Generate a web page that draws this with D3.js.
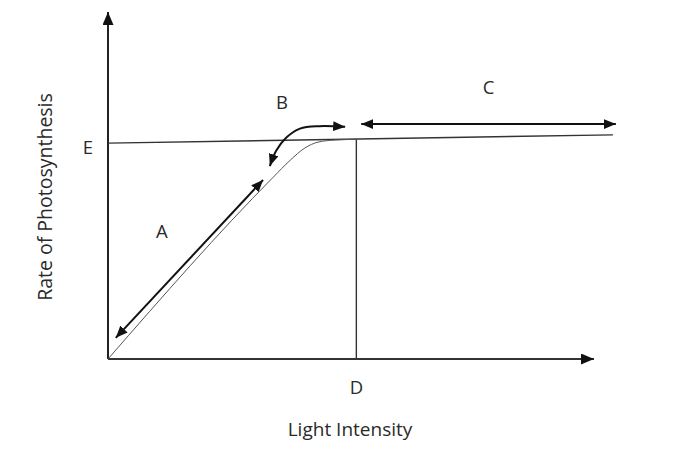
<!DOCTYPE html>
<html>
<head>
<meta charset="utf-8">
<script src="https://cdn.jsdelivr.net/npm/d3@7"></script>
<style>
  body { margin: 0; background: #fff; }
  text { font-family: "Open Sans", "Liberation Sans", sans-serif; fill: #2a2a2a; }
</style>
</head>
<body>
<div id="chart"></div>
<script>
//Data (axis units 0-100)
var curveX = [0, 34, 37.5, 40.5, 43.2, 46.7, 51.2];
var curveY = [0, 52.4, 57.3, 60.8, 62.5, 63.1, 63.3];
var eLineX = [0, 103.9];
var eLineY = [62.2, 64.6];
var dValue = 51.1;
var arrowA = [[1.6, 6.1], [31.9, 51.6]];
var arrowB = [[48.8, 66.9], [43.5, 67.1], [39.5, 66.4], [36.6, 63.7], [34.6, 60.0], [33.3, 55.6]];
var arrowC = [[52.1, 67.7], [104.5, 67.7]];
var letters = ["A", "B", "C", "D", "E"];
var axisTitles = ["Light Intensity", "Rate of Photosynthesis"];

//Canvas
var W = 678, H = 460;
var svg = d3.select("#chart").append("svg")
	.attr("width", W).attr("height", H);

var x = d3.scaleLinear().domain([0, 100]).range([108, 594]);
var y = d3.scaleLinear().domain([0, 100]).range([359, 12]);

//Arrowhead marker
var defs = svg.append("defs");
function marker(id, len, wid) {
	defs.append("marker").attr("id", id)
		.attr("markerUnits", "userSpaceOnUse")
		.attr("viewBox", "0 0 " + len + " " + wid)
		.attr("refX", len).attr("refY", wid / 2)
		.attr("markerWidth", len).attr("markerHeight", wid)
		.attr("orient", "auto-start-reverse")
		.append("path")
		.attr("d", "M0,0L" + len + "," + (wid / 2) + "L0," + wid + "Z")
		.attr("fill", "#111");
}
marker("head", 12, 10);
marker("axisHead", 13, 11);

var line = d3.line().x(function(d) { return x(d[0]); }).y(function(d) { return y(d[1]); });

//Axes
svg.append("path")
	.attr("d", line([[0, 0], [0, 100]]))
	.attr("stroke", "#222").attr("stroke-width", 2).attr("fill", "none")
	.attr("marker-end", "url(#axisHead)");
svg.append("path")
	.attr("d", line([[0, 0], [100, 0]]))
	.attr("stroke", "#333").attr("stroke-width", 2).attr("fill", "none")
	.attr("marker-end", "url(#axisHead)");

//E line
svg.append("path")
	.attr("d", line(eLineX.map(function(v, i) { return [v, eLineY[i]]; })))
	.attr("stroke", "#333").attr("stroke-width", 1.4).attr("fill", "none");

//D line
var eAtD = eLineY[0] + (eLineY[1] - eLineY[0]) * dValue / eLineX[1];
svg.append("path")
	.attr("d", line([[dValue, 0], [dValue, eAtD]]))
	.attr("stroke", "#333").attr("stroke-width", 1.4).attr("fill", "none");

//Rate curve
svg.append("path")
	.attr("d", d3.line().curve(d3.curveMonotoneX)
		.x(function(d) { return x(d[0]); }).y(function(d) { return y(d[1]); })
		(curveX.map(function(v, i) { return [v, curveY[i]]; })))
	.attr("stroke", "#555").attr("stroke-width", 1).attr("fill", "none");

//Annotation arrows
[arrowA, arrowC].forEach(function(a) {
	svg.append("path")
		.attr("d", line(a))
		.attr("stroke", "#111").attr("stroke-width", 2).attr("fill", "none")
		.attr("marker-start", "url(#head)")
		.attr("marker-end", "url(#head)");
});
svg.append("path")
	.attr("d", d3.line().curve(d3.curveCatmullRom)
		.x(function(d) { return x(d[0]); }).y(function(d) { return y(d[1]); })(arrowB))
	.attr("stroke", "#111").attr("stroke-width", 2).attr("fill", "none")
	.attr("marker-start", "url(#head)")
	.attr("marker-end", "url(#head)");

//Letters
var fs = 18.5;
function label(t, px, py) {
	svg.append("text").attr("x", px).attr("y", py)
		.attr("text-anchor", "middle").attr("dominant-baseline", "central")
		.attr("font-size", fs).text(t);
}
label(letters[0], x(arrowA[0][0]) + 46, y(arrowA[1][1]) + 51);
label(letters[1], x(arrowB[2][0]) - 18, y(arrowB[0][1]) - 25);
label(letters[2], x((arrowC[0][0] + arrowC[1][0]) / 2), y(arrowC[0][1]) - 38);
label(letters[3], x(dValue), y(0) + 27);
label(letters[4], x(0) - 20, y(eLineY[0]) + 3);

//Axis titles
svg.append("text").attr("x", 350).attr("y", 429)
	.attr("text-anchor", "middle").attr("dominant-baseline", "central")
	.attr("font-size", 19).text(axisTitles[0]);
svg.append("text")
	.attr("transform", "translate(44," + 197 + ") rotate(-90)")
	.attr("text-anchor", "middle").attr("dominant-baseline", "central")
	.attr("font-size", 19.5).text(axisTitles[1]);
</script>
</body>
</html>
